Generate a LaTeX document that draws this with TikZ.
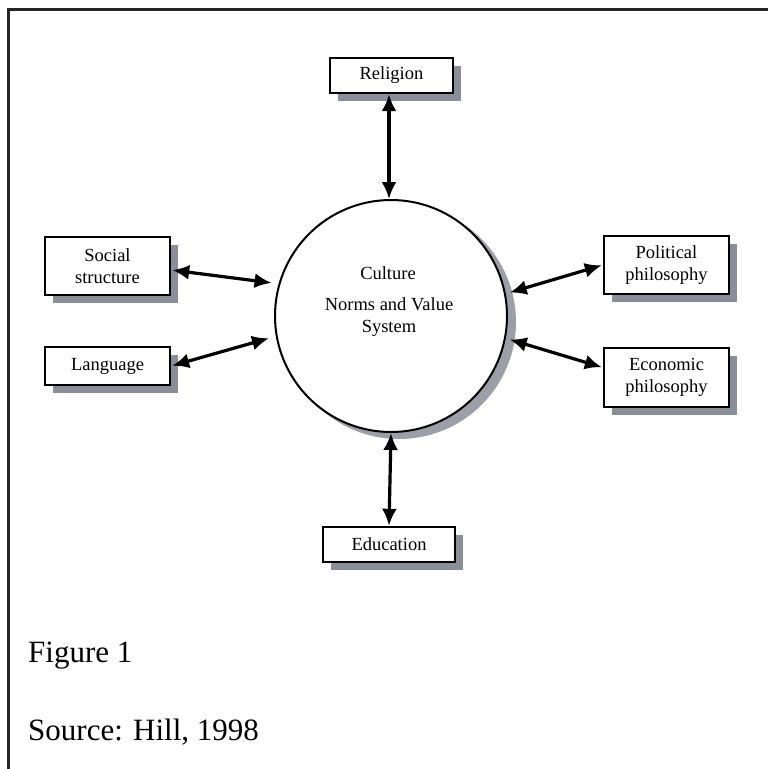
\documentclass[tikz,border=0pt]{standalone}
\usepackage{fontspec}
\setmainfont{Liberation Serif}
\usetikzlibrary{arrows.meta,shadows}
\definecolor{shadowgray}{HTML}{8A8E99}
\tikzset{
  x=1pt, y=-1pt,
  box/.style={draw=black, line width=2.4pt, fill=white, align=center, inner sep=2pt,
    font=\fontsize{18.5}{21.5}\selectfont,
    drop shadow={shadow xshift=8pt, shadow yshift=-8pt, fill=shadowgray, opacity=1}},
  link/.style={line width=3.2pt, {Latex[length=17pt,width=15pt]}-{Latex[length=17pt,width=15pt]}},
  frame/.style={line width=2.6pt, black!85}
}
\begin{document}
\begin{tikzpicture}
\useasboundingbox (0,0) rectangle (768,769);
\fill[white] (0,0) rectangle (768,769);
% frame
\coordinate (ftr) at (768,9.5);
\coordinate (ftl) at (8.7,9.5);
\coordinate (fbl) at (8.7,769);
\draw[frame] (ftr) -- (ftl) -- (fbl);
% circle with shadow
\fill[shadowgray!85] (399,322) circle (117);
\node[circle, draw=black, line width=2pt, fill=white, minimum size=232pt, inner sep=0pt] (c) at (391,316) {};
\node[font=\fontsize{18.5}{22}\selectfont, align=center] (ct1) at (388,273) {Culture};
\node[font=\fontsize{18.5}{22}\selectfont, align=center] (ct2) at (389,317) {Norms and Value\\System};
% boxes
\node[box, minimum width=123pt, minimum height=35pt] (rel) at (391.5,75.5) {Religion};
\node[box, minimum width=132pt, minimum height=35pt] (edu) at (389,544.5) {Education};
\node[box, minimum width=125pt, minimum height=58pt] (soc) at (107.5,266) {Social\\structure};
\node[box, minimum width=125pt, minimum height=38pt] (lan) at (107.5,366) {Language};
\node[box, minimum width=125pt, minimum height=58pt] (pol) at (666.5,265) {Political\\philosophy};
\node[box, minimum width=125pt, minimum height=59pt] (eco) at (666.5,377.5) {Economic\\philosophy};
% connectors
\draw[link] ([xshift=-2.5pt]rel.south) -- ([xshift=-2pt]c.north);
\draw[link] (c.south) -- (edu.north);
\draw[link, shorten >=7pt, shorten <=1pt] ([yshift=-4pt]soc.east) -- (c.164);
\draw[link, shorten >=7pt, shorten <=1pt] (lan.east) -- (c.190.5);
\draw[link, shorten <=4pt, shorten >=1pt] (c.11) -- (pol.west);
\draw[link, shorten <=4pt, shorten >=1pt] (c.-11) -- ([yshift=10pt]eco.west);
% captions
\node[anchor=base west, font=\fontsize{31}{36}\selectfont, inner sep=0pt] (fig) at (28,662) {Figure 1};
\node[anchor=base west, font=\fontsize{31}{36}\selectfont, inner sep=0pt] (src) at (28,740) {Source: Hill, 1998};
\end{tikzpicture}
\end{document}
